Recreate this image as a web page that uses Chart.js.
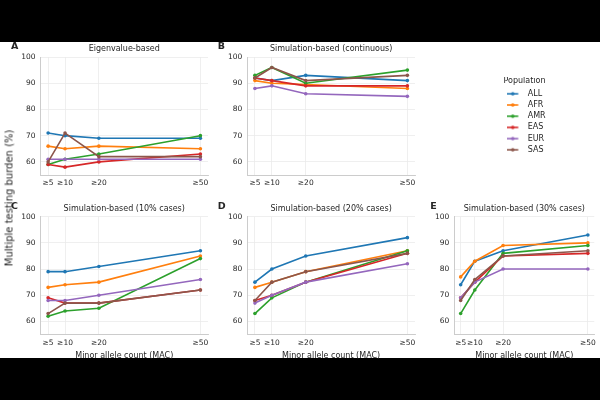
<!DOCTYPE html>
<html lang="en">
<head>
<meta charset="UTF-8">
<title>Multiple testing burden</title>
<script src="https://cdn.jsdelivr.net/npm/chart.js@4.4.0/dist/chart.umd.min.js"></script>
<style>
  html, body { margin: 0; padding: 0; background: #000; }
  #fig { position: relative; width: 600px; height: 400px; overflow: hidden; }
  #paper { position: absolute; left: 0; top: 42px; width: 600px; height: 316px; background: #fff; }
  canvas { position: absolute; left: 0; top: 0; }
  #ylab {
    position: absolute; left: 9px; top: 198px;
    transform: translate(-50%, -50%) rotate(-90deg);
    font: 10px "DejaVu Sans"; color: #262626; white-space: nowrap;
  }
</style>
</head>
<body>
<div id="fig">
  <div id="paper"></div>
  <canvas id="panelA" width="600" height="400"></canvas>
  <canvas id="panelB" width="600" height="400"></canvas>
  <canvas id="panelC" width="600" height="400"></canvas>
  <canvas id="panelD" width="600" height="400"></canvas>
  <canvas id="panelE" width="600" height="400"></canvas>
  <canvas id="legendBox" width="600" height="400"></canvas>
  <div id="ylab">Multiple testing burden (%)</div>
</div>

<script>
  const mac = [5, 10, 20, 50];
  const macLabels = ['≥5', '≥10', '≥20', '≥50'];
  const populations = ['ALL', 'AFR', 'AMR', 'EAS', 'EUR', 'SAS'];
  const popColors = ['#1f77b4', '#ff7f0e', '#2ca02c', '#d62728', '#9467bd', '#8c564b'];
  const yTicks = [60, 70, 80, 90, 100];

  // one row per population, same order as above
  const eigenvalue = [
    [71, 70, 69, 69],
    [66, 65, 66, 65],
    [59, 61, 63, 70],
    [59, 58, 60, 63],
    [61, 61, 61, 61],
    [60, 71, 62, 62]
  ];
  const continuous = [
    [92, 91, 93, 91],
    [91, 90, 89.5, 88],
    [93, 96, 90, 95],
    [92, 91, 89, 89],
    [88, 89, 86, 85],
    [92, 96, 91, 93]
  ];
  const cases10 = [
    [79, 79, 81, 87],
    [73, 74, 75, 85],
    [62, 64, 65, 84],
    [69, 67, 67, 72],
    [68, 68, 70, 76],
    [63, 67, 67, 72]
  ];
  const cases20 = [
    [75, 80, 85, 92],
    [73, 75, 79, 87],
    [63, 69, 75, 87],
    [68, 70, 75, 86],
    [67, 70, 75, 82],
    [68, 75, 79, 86]
  ];
  const cases30 = [
    [74, 83, 87, 93],
    [77, 83, 89, 90],
    [63, 72, 86, 89],
    [69, 75, 85, 86],
    [69, 75, 80, 80],
    [68, 76, 85, 87]
  ];

  const FONT = '"DejaVu Sans"';
  const TXT = '#262626';
  const Y_AXIS_W = 30;
  const X_AXIS_H = 28;

  // panel title + letter, placed relative to the plot area
  const panelText = {
    id: 'panelText',
    afterDraw(chart, args, opts) {
      const { ctx, chartArea } = chart;
      ctx.save();
      ctx.fillStyle = TXT;
      ctx.textBaseline = 'middle';
      ctx.textAlign = 'center';
      ctx.font = '8px ' + FONT;
      ctx.fillText(opts.title, (chartArea.left + chartArea.right) / 2, chartArea.top - 8);
      ctx.textAlign = 'left';
      ctx.font = 'bold 9.5px ' + FONT;
      ctx.fillText(opts.letter, chartArea.left + opts.letterDx, chartArea.top - 10);
      ctx.restore();
    }
  };

  function makePanel(id, values, title, letter, letterDx, box, showXTitle) {
    new Chart(id, {
      type: 'line',
      data: {
        datasets: populations.map((p, i) => ({
          label: p,
          data: mac.map((m, j) => ({ x: m, y: values[i][j] })),
          borderColor: popColors[i],
          backgroundColor: popColors[i],
          borderWidth: 1.6,
          pointRadius: 1.8,
          pointBorderWidth: 0,
          order: populations.length - i
        }))
      },
      options: {
        responsive: false,
        animation: false,
        layout: {
          padding: {
            left: box.left - Y_AXIS_W,
            right: 600 - box.right,
            top: box.top,
            bottom: 400 - box.bottom - X_AXIS_H
          }
        },
        plugins: {
          legend: { display: false },
          tooltip: { enabled: false },
          panelText: { title: title, letter: letter, letterDx: letterDx }
        },
        scales: {
          x: {
            type: 'linear',
            min: 2.75,
            max: 52.25,
            afterBuildTicks: s => { s.ticks = mac.map(v => ({ value: v })); },
            afterFit: s => { s.height = X_AXIS_H; },
            grid: { color: '#ebebeb', lineWidth: 0.8, drawTicks: false },
            border: { color: '#cccccc', width: 1 },
            ticks: {
              autoSkip: false, maxRotation: 0, padding: 4,
              color: TXT, font: { family: FONT, size: 7.5 },
              callback: v => macLabels[mac.indexOf(v)]
            },
            title: {
              display: showXTitle, text: 'Minor allele count (MAC)',
              color: TXT, font: { family: FONT, size: 8 },
              padding: { top: 0, bottom: 2 }
            }
          },
          y: {
            min: 55,
            max: 100,
            afterBuildTicks: s => { s.ticks = yTicks.map(v => ({ value: v })); },
            afterFit: s => { s.width = Y_AXIS_W; },
            grid: { color: '#ebebeb', lineWidth: 0.8, drawTicks: false },
            border: { color: '#cccccc', width: 1 },
            ticks: { padding: 5, color: TXT, font: { family: FONT, size: 7.5 } }
          }
        }
      },
      plugins: [panelText]
    });
  }

  makePanel('panelA', eigenvalue, 'Eigenvalue-based', 'A', -29.5,
    { left: 40.5, right: 208, top: 57, bottom: 175 }, false);
  makePanel('panelB', continuous, 'Simulation-based (continuous)', 'B', -29.5,
    { left: 247.3, right: 415, top: 57, bottom: 175 }, false);
  makePanel('panelC', cases10, 'Simulation-based (10% cases)', 'C', -29.5,
    { left: 40.5, right: 208, top: 216.7, bottom: 334.5 }, true);
  makePanel('panelD', cases20, 'Simulation-based (20% cases)', 'D', -29.5,
    { left: 247.3, right: 415, top: 216.7, bottom: 334.5 }, true);
  makePanel('panelE', cases30, 'Simulation-based (30% cases)', 'E', -24,
    { left: 454.3, right: 597.2, top: 216.7, bottom: 334.5 }, true);

  // legend handle: short line with a dot, like the plotting library draws it
  function handleImage(color) {
    const c = document.createElement('canvas');
    c.width = 17; c.height = 6;
    const g = c.getContext('2d');
    g.strokeStyle = color; g.lineWidth = 1.6;
    g.beginPath(); g.moveTo(0, 3); g.lineTo(11.5, 3); g.stroke();
    g.fillStyle = color;
    g.beginPath(); g.arc(6, 3, 1.8, 0, Math.PI * 2); g.fill();
    return c;
  }

  new Chart('legendBox', {
    type: 'line',
    data: {
      datasets: populations.map((p, i) => ({ label: p, data: [], borderColor: popColors[i] }))
    },
    options: {
      responsive: false,
      animation: false,
      layout: { padding: { left: 503.5, top: 77 } },
      scales: { x: { display: false }, y: { display: false } },
      plugins: {
        tooltip: { enabled: false },
        legend: {
          position: 'left',
          align: 'start',
          title: {
            display: true, text: 'Population', position: 'start',
            color: TXT, font: { family: FONT, size: 8 }, padding: 0
          },
          labels: {
            usePointStyle: true,
            pointStyleWidth: 17,
            padding: 3.2,
            color: TXT,
            font: { family: FONT, size: 8 },
            generateLabels: chart => populations.map((p, i) => ({
              text: p,
              pointStyle: handleImage(popColors[i]),
              fillStyle: popColors[i],
              strokeStyle: popColors[i],
              lineWidth: 0,
              hidden: false,
              datasetIndex: i
            }))
          }
        }
      }
    }
  });
</script>
</body>
</html>
